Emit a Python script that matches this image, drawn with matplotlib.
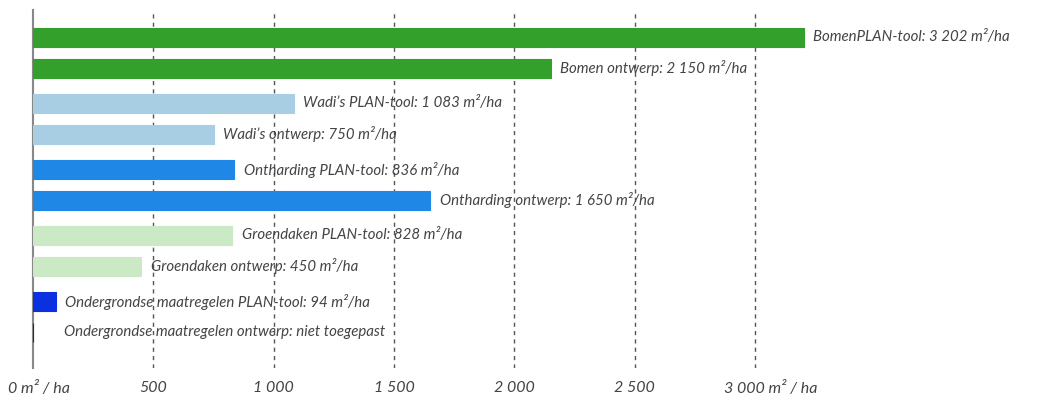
import numpy as np
import matplotlib.pyplot as plt
import matplotlib.transforms as mtransforms

plt.rcParams['font.family'] = ['Lato', 'DejaVu Sans']

labels = ["BomenPLAN-tool: 3 202 m²/ha",
          "Bomen ontwerp: 2 150 m²/ha",
          "Wadi’s PLAN-tool: 1 083 m²/ha",
          "Wadi’s ontwerp: 750 m²/ha",
          "Ontharding PLAN-tool: 836 m²/ha",
          "Ontharding ontwerp: 1 650 m²/ha",
          "Groendaken PLAN-tool: 828 m²/ha",
          "Groendaken ontwerp: 450 m²/ha",
          "Ondergrondse maatregelen PLAN-tool: 94 m²/ha",
          "Ondergrondse maatregelen ontwerp: niet toegepast"]
values = [3202, 2150, 1083, 750, 836, 1650, 828, 450, 94, 0]
colors = ['#34a02c', '#34a02c', '#a7cee3', '#a7cee3', '#1f88e6', '#1f88e6',
          '#cbe9c5', '#cbe9c5', '#0a30e0', '#1b2b5c']

xticks = [0, 500, 1000, 1500, 2000, 2500, 3000]
xticklabels = ['0 m² / ha', '500', '1 000', '1 500', '2 000', '2 500', '3 000 m² / ha']

# layout: pairs of bars with a small extra gap between groups
idx = np.arange(len(values))
ypos = 27.5 + idx * 30.5 + (idx // 2) * 5

fig = plt.figure(figsize=(10.45, 4), dpi=100)
ax = fig.add_axes([33/1045, 1 - 368/400, 1011/1045, 358/400])

ax.barh(ypos, values, height=19, color=colors, edgecolor=colors, linewidth=0.8, zorder=3)

for y, v, t in zip(ypos, values, labels):
    ax.annotate(t, (max(v, 90), y), xytext=(7, 0), textcoords='offset points',
                ha='left', va='center', fontsize=10.8, style='italic', color='#444444')

ax.set_xlim(0, 4200)
ax.set_ylim(358, 0)

for x in xticks[1:]:
    ax.axvline(x, color='#555555', linewidth=1, linestyle=(0, (3, 3)), zorder=1)

for s in ['top', 'right', 'bottom']:
    ax.spines[s].set_visible(False)
ax.spines['left'].set_color('#888888')
ax.spines['left'].set_linewidth(1.5)

ax.set_yticks([])
ax.set_xticks(xticks)
ax.set_xticklabels(xticklabels, fontsize=11.5, style='italic', color='#444444')
ax.tick_params(axis='x', length=0, pad=9)

# nudge the end labels with units to the right
tl = ax.get_xticklabels()
tl[0].set_transform(tl[0].get_transform() + mtransforms.ScaledTranslation(6/100, 0, fig.dpi_scale_trans))
tl[-1].set_transform(tl[-1].get_transform() + mtransforms.ScaledTranslation(16/100, 0, fig.dpi_scale_trans))

plt.savefig('out.png', dpi=100)
